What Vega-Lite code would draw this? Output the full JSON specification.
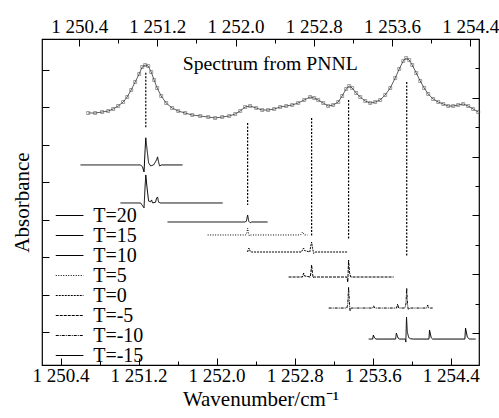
{
  "$schema": "https://vega.github.io/schema/vega-lite/v6.json",
  "width": 437,
  "height": 326,
  "autosize": "none",
  "padding": {"left": 42, "top": 39, "right": 20, "bottom": 53},
  "background": "white",
  "config": {
    "view": {"stroke": "black", "strokeWidth": 1.2},
    "font": "Liberation Serif",
    "axis": {"labelFont": "Liberation Serif", "titleFont": "Liberation Serif", "labelColor": "black", "titleColor": "black", "tickColor": "black", "labelFontSize": 19, "titleFontSize": 21, "titleFontWeight": "normal", "grid": false, "domain": false}
  },
  "resolve": {"scale": {"x": "independent", "y": "independent"}},
  "layer": [
    {
      "layer": [
        {
          "data": {"values": [
            {"w":1250.492,"r":8.483},{"w":1250.564,"r":8.483},{"w":1250.635,"r":8.517},{"w":1250.697,"r":8.551},{"w":1250.748,"r":8.619},{"w":1250.799,"r":8.721},{"w":1250.850,"r":8.857},{"w":1250.891,"r":9.027},{"w":1250.932,"r":9.265},{"w":1250.973,"r":9.537},{"w":1251.014,"r":9.810},{"w":1251.045,"r":10.048},{"w":1251.075,"r":10.116},{"w":1251.106,"r":10.082},{"w":1251.137,"r":9.878},{"w":1251.167,"r":9.605},{"w":1251.198,"r":9.333},{"w":1251.239,"r":9.061},{"w":1251.290,"r":8.823},{"w":1251.351,"r":8.653},{"w":1251.413,"r":8.551},{"w":1251.484,"r":8.483},{"w":1251.556,"r":8.415},{"w":1251.638,"r":8.381},{"w":1251.720,"r":8.347},{"w":1251.791,"r":8.313},{"w":1251.863,"r":8.347},{"w":1251.935,"r":8.381},{"w":1251.996,"r":8.449},{"w":1252.047,"r":8.551},{"w":1252.098,"r":8.687},{"w":1252.149,"r":8.721},{"w":1252.211,"r":8.653},{"w":1252.272,"r":8.585},{"w":1252.333,"r":8.585},{"w":1252.395,"r":8.619},{"w":1252.456,"r":8.687},{"w":1252.518,"r":8.721},{"w":1252.579,"r":8.755},{"w":1252.640,"r":8.823},{"w":1252.702,"r":8.925},{"w":1252.763,"r":9.027},{"w":1252.804,"r":8.993},{"w":1252.845,"r":8.925},{"w":1252.896,"r":8.823},{"w":1252.947,"r":8.721},{"w":1252.998,"r":8.755},{"w":1253.050,"r":8.857},{"w":1253.090,"r":9.061},{"w":1253.131,"r":9.299},{"w":1253.162,"r":9.401},{"w":1253.193,"r":9.333},{"w":1253.234,"r":9.163},{"w":1253.275,"r":9.027},{"w":1253.326,"r":8.891},{"w":1253.377,"r":8.823},{"w":1253.428,"r":8.857},{"w":1253.479,"r":8.925},{"w":1253.530,"r":9.095},{"w":1253.582,"r":9.333},{"w":1253.633,"r":9.673},{"w":1253.674,"r":9.980},{"w":1253.715,"r":10.252},{"w":1253.745,"r":10.354},{"w":1253.776,"r":10.286},{"w":1253.807,"r":10.116},{"w":1253.848,"r":9.844},{"w":1253.889,"r":9.571},{"w":1253.929,"r":9.333},{"w":1253.970,"r":9.129},{"w":1254.021,"r":8.959},{"w":1254.073,"r":8.857},{"w":1254.124,"r":8.789},{"w":1254.175,"r":8.721},{"w":1254.226,"r":8.721},{"w":1254.277,"r":8.755},{"w":1254.328,"r":8.789},{"w":1254.379,"r":8.721},{"w":1254.430,"r":8.619},{"w":1254.482,"r":8.517}
          ]},
          "layer": [
            {"mark": {"type": "line", "color": "#333", "strokeWidth": 0.8}, "encoding": {}},
            {"mark": {"type": "point", "shape": "square", "size": 9, "filled": false, "color": "#444", "strokeWidth": 0.7}, "encoding": {}}
          ]
        },
        {
          "data": {"values": [{"label": "Spectrum from PNNL", "w": 1252.354, "r": 9.946}]},
          "mark": {"type": "text", "font": "Liberation Serif", "fontSize": 19.7, "align": "center", "baseline": "alphabetic", "color": "black"},
          "encoding": {"text": {"field": "label"}}
        }
      ],
      "encoding": {
        "x": {"field": "w", "type": "quantitative",
          "scale": {"domain": [1250.02, 1254.49], "nice": false, "zero": false},
          "axis": {"orient": "top", "title": null,
            "values": [1250.4,1250.8,1251.2,1251.6,1252.0,1252.4,1252.8,1253.2,1253.6,1254.0,1254.4],
            "labelExpr": "round(datum.value*10) % 8 == 0 ? replace(format(datum.value, ',.1f'), ',', ' ') : ''",
            "tickSize": {"condition": {"test": "round(datum.value*10) % 8 == 0", "value": -7}, "value": -4},
            "labelPadding": 10}},
        "y": {"field": "r", "type": "quantitative",
          "scale": {"domain": [-0.088, 11.0], "nice": false, "zero": false},
          "axis": {"orient": "right", "title": null, "labels": false, "values": [1,2,3,4,5,6,7,8,9,10],
            "tickSize": {"condition": {"test": "datum.value % 2 == 1", "value": -7}, "value": -4}}}
      }
    },
    {
      "layer": [
        {
          "data": {"values": [
            {"s":"T=20","w":1250.605,"a":5.465},{"s":"T=20","w":1251.221,"a":5.465},{"s":"T=20","w":1251.241,"a":5.41},{"s":"T=20","w":1251.256,"a":5.278},{"s":"T=20","w":1251.267,"a":5.87},{"s":"T=20","w":1251.274,"a":6.19},{"s":"T=20","w":1251.287,"a":5.87},{"s":"T=20","w":1251.303,"a":5.52},{"s":"T=20","w":1251.323,"a":5.44},{"s":"T=20","w":1251.354,"a":5.465},{"s":"T=20","w":1251.385,"a":5.60},{"s":"T=20","w":1251.395,"a":5.68},{"s":"T=20","w":1251.405,"a":5.545},{"s":"T=20","w":1251.415,"a":5.44},{"s":"T=20","w":1251.436,"a":5.465},{"s":"T=20","w":1251.651,"a":5.465},
            {"s":"T=15","w":1251.015,"a":4.449},{"s":"T=15","w":1251.221,"a":4.449},{"s":"T=15","w":1251.256,"a":4.32},{"s":"T=15","w":1251.267,"a":4.9},{"s":"T=15","w":1251.274,"a":5.198},{"s":"T=15","w":1251.287,"a":4.85},{"s":"T=15","w":1251.303,"a":4.50},{"s":"T=15","w":1251.323,"a":4.48},{"s":"T=15","w":1251.333,"a":4.53},{"s":"T=15","w":1251.344,"a":4.45},{"s":"T=15","w":1251.374,"a":4.47},{"s":"T=15","w":1251.385,"a":4.58},{"s":"T=15","w":1251.395,"a":4.61},{"s":"T=15","w":1251.405,"a":4.47},{"s":"T=15","w":1251.426,"a":4.449},{"s":"T=15","w":1252.062,"a":4.449},
            {"s":"T=10","w":1251.497,"a":3.941},{"s":"T=10","w":1252.29,"a":3.941},{"s":"T=10","w":1252.305,"a":3.96},{"s":"T=10","w":1252.318,"a":4.128},{"s":"T=10","w":1252.33,"a":3.96},{"s":"T=10","w":1252.345,"a":3.92},{"s":"T=10","w":1252.36,"a":3.941},{"s":"T=10","w":1252.523,"a":3.941},
            {"s":"T=5","w":1251.908,"a":3.594},{"s":"T=5","w":1252.30,"a":3.594},{"s":"T=5","w":1252.31,"a":3.65},{"s":"T=5","w":1252.318,"a":3.781},{"s":"T=5","w":1252.326,"a":3.65},{"s":"T=5","w":1252.335,"a":3.57},{"s":"T=5","w":1252.35,"a":3.594},{"s":"T=5","w":1252.86,"a":3.594},{"s":"T=5","w":1252.875,"a":3.65},{"s":"T=5","w":1252.882,"a":3.674},{"s":"T=5","w":1252.89,"a":3.64},{"s":"T=5","w":1252.90,"a":3.594},{"s":"T=5","w":1252.933,"a":3.594},
            {"s":"T=0","w":1252.318,"a":3.139},{"s":"T=0","w":1252.325,"a":3.22},{"s":"T=0","w":1252.333,"a":3.246},{"s":"T=0","w":1252.345,"a":3.15},{"s":"T=0","w":1252.36,"a":3.139},{"s":"T=0","w":1252.87,"a":3.139},{"s":"T=0","w":1252.885,"a":3.22},{"s":"T=0","w":1252.892,"a":3.246},{"s":"T=0","w":1252.90,"a":3.18},{"s":"T=0","w":1252.955,"a":3.139},{"s":"T=0","w":1252.965,"a":3.3},{"s":"T=0","w":1252.974,"a":3.406},{"s":"T=0","w":1252.983,"a":3.25},{"s":"T=0","w":1252.995,"a":3.10},{"s":"T=0","w":1253.01,"a":3.139},{"s":"T=0","w":1253.343,"a":3.139},
            {"s":"T=-5","w":1252.738,"a":2.471},{"s":"T=-5","w":1252.88,"a":2.471},{"s":"T=-5","w":1252.892,"a":2.578},{"s":"T=-5","w":1252.90,"a":2.50},{"s":"T=-5","w":1252.96,"a":2.471},{"s":"T=-5","w":1252.967,"a":2.6},{"s":"T=-5","w":1252.974,"a":2.791},{"s":"T=-5","w":1252.982,"a":2.6},{"s":"T=-5","w":1252.99,"a":2.45},{"s":"T=-5","w":1253.00,"a":2.471},{"s":"T=-5","w":1253.335,"a":2.471},{"s":"T=-5","w":1253.345,"a":2.337},{"s":"T=-5","w":1253.353,"a":2.925},{"s":"T=-5","w":1253.362,"a":2.6},{"s":"T=-5","w":1253.375,"a":2.471},{"s":"T=-5","w":1253.815,"a":2.471},
            {"s":"T=-10","w":1253.149,"a":1.642},{"s":"T=-10","w":1253.335,"a":1.642},{"s":"T=-10","w":1253.345,"a":1.75},{"s":"T=-10","w":1253.353,"a":2.203},{"s":"T=-10","w":1253.361,"a":1.8},{"s":"T=-10","w":1253.368,"a":1.56},{"s":"T=-10","w":1253.38,"a":1.642},{"s":"T=-10","w":1253.60,"a":1.642},{"s":"T=-10","w":1253.61,"a":1.70},{"s":"T=-10","w":1253.62,"a":1.642},{"s":"T=-10","w":1253.845,"a":1.642},{"s":"T=-10","w":1253.856,"a":1.749},{"s":"T=-10","w":1253.866,"a":1.642},{"s":"T=-10","w":1253.93,"a":1.642},{"s":"T=-10","w":1253.941,"a":1.75},{"s":"T=-10","w":1253.949,"a":2.176},{"s":"T=-10","w":1253.957,"a":1.75},{"s":"T=-10","w":1253.965,"a":1.60},{"s":"T=-10","w":1253.98,"a":1.642},{"s":"T=-10","w":1254.155,"a":1.642},{"s":"T=-10","w":1254.164,"a":1.722},{"s":"T=-10","w":1254.175,"a":1.642},{"s":"T=-10","w":1254.215,"a":1.642},
            {"s":"T=-15","w":1253.559,"a":0.813},{"s":"T=-15","w":1253.60,"a":0.813},{"s":"T=-15","w":1253.607,"a":0.92},{"s":"T=-15","w":1253.62,"a":0.84},{"s":"T=-15","w":1253.635,"a":0.813},{"s":"T=-15","w":1253.835,"a":0.813},{"s":"T=-15","w":1253.843,"a":0.973},{"s":"T=-15","w":1253.86,"a":0.84},{"s":"T=-15","w":1253.875,"a":0.813},{"s":"T=-15","w":1253.935,"a":0.813},{"s":"T=-15","w":1253.94,"a":0.733},{"s":"T=-15","w":1253.947,"a":1.401},{"s":"T=-15","w":1253.955,"a":1.0},{"s":"T=-15","w":1253.97,"a":0.85},{"s":"T=-15","w":1253.99,"a":0.82},{"s":"T=-15","w":1254.02,"a":0.813},{"s":"T=-15","w":1254.177,"a":0.813},{"s":"T=-15","w":1254.183,"a":1.053},{"s":"T=-15","w":1254.20,"a":0.85},{"s":"T=-15","w":1254.215,"a":0.813},{"s":"T=-15","w":1254.545,"a":0.813},{"s":"T=-15","w":1254.552,"a":1.107},{"s":"T=-15","w":1254.57,"a":0.87},{"s":"T=-15","w":1254.59,"a":0.813},{"s":"T=-15","w":1254.656,"a":0.813}
          ]},
          "mark": {"type": "line", "color": "black", "strokeWidth": 1},
          "encoding": {
            "strokeDash": {"field": "s", "type": "nominal",
              "scale": {"domain": ["T=20","T=15","T=10","T=5","T=0","T=-5","T=-10","T=-15"],
                        "range": [[1,0],[1,0],[1,0],[1,1.5],[2,1],[3,1],[3,1,1,1],[1,0]]},
              "legend": {"orient": "none", "legendX": 17.6, "legendY": 166.5, "title": null,
                "symbolType": "M-1.6,0H1.6", "symbolSize": 300, "symbolStrokeColor": "black", "symbolFillColor": "transparent", "symbolStrokeWidth": 1.2,
                "labelFont": "Liberation Serif", "labelFontSize": 20, "labelColor": "black", "labelOffset": 13.6,
                "rowPadding": -1, "padding": 0}}
          }
        },
        {
          "data": {"values": [
            {"w":1251.274,"a1":7.925,"a2":6.455},
            {"w":1252.318,"a1":6.588,"a2":4.396},
            {"w":1252.974,"a1":6.722,"a2":3.540},
            {"w":1253.353,"a1":7.203,"a2":3.460},
            {"w":1253.949,"a1":7.684,"a2":3.005}
          ]},
          "mark": {"type": "rule", "color": "black", "strokeWidth": 1.2, "strokeDash": [2, 1.5]},
          "encoding": {"y": {"field": "a1", "type": "quantitative"}, "y2": {"field": "a2"}}
        }
      ],
      "encoding": {
        "x": {"field": "w", "type": "quantitative",
          "scale": {"domain": [1250.21, 1254.69], "nice": false, "zero": false},
          "axis": {"orient": "bottom", "title": "Wavenumber/cm⁻¹",
            "values": [1250.4,1250.8,1251.2,1251.6,1252.0,1252.4,1252.8,1253.2,1253.6,1254.0,1254.4],
            "labelExpr": "round(datum.value*10) % 8 == 0 ? replace(format(datum.value, ',.1f'), ',', ' ') : ''",
            "tickSize": {"condition": {"test": "round(datum.value*10) % 8 == 0", "value": -7}, "value": -4},
            "labelPadding": 8, "titlePadding": 3}},
        "y": {"field": "a", "type": "quantitative",
          "scale": {"domain": [0.12, 8.83], "nice": false, "zero": false},
          "axis": {"orient": "left", "title": "Absorbance", "labels": false, "values": [1,2,3,4,5,6,7,8],
            "tickSize": -7, "titlePadding": 9}}
      }
    }
  ]
}
